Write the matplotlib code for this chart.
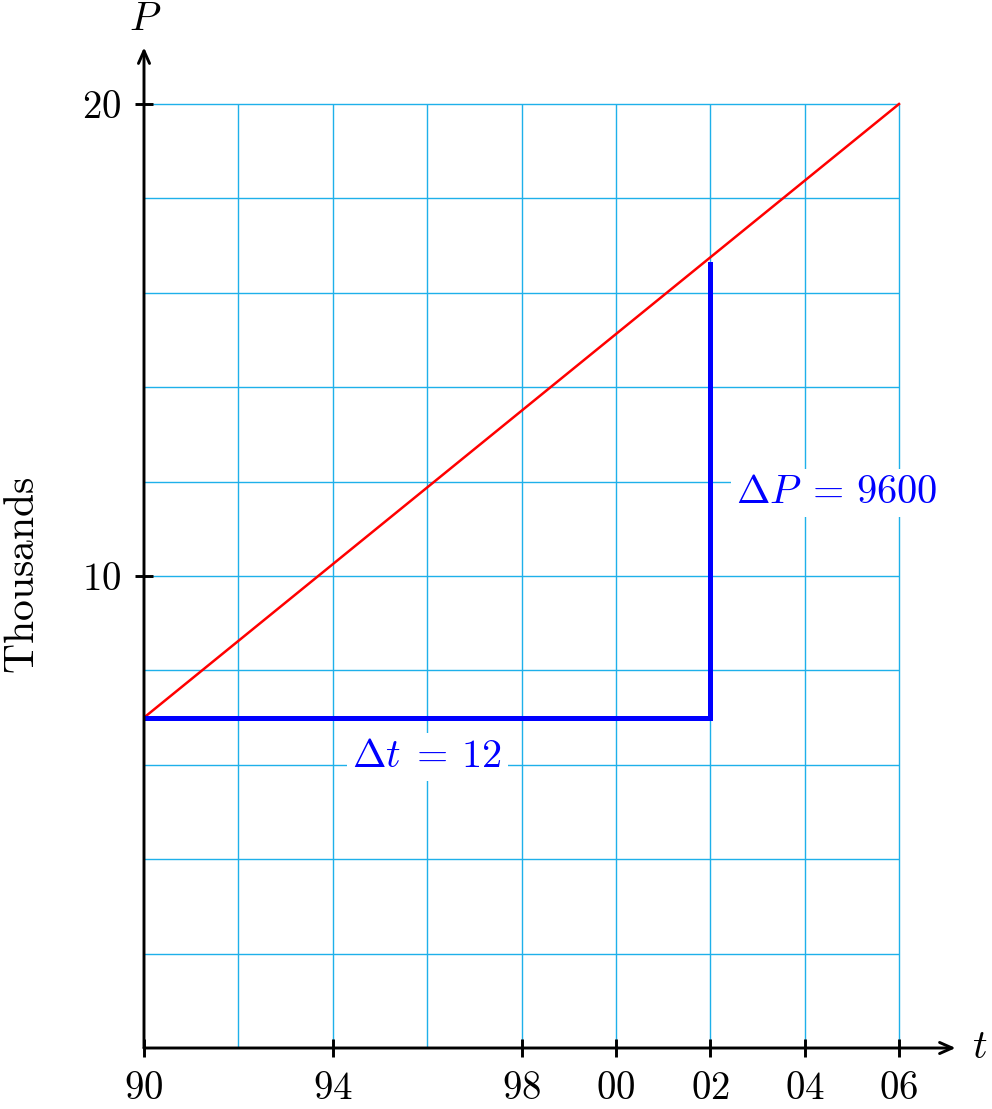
import matplotlib.pyplot as plt

plt.rcParams['mathtext.fontset'] = 'cm'
plt.rcParams['font.family'] = 'serif'

# data (years, thousands)
line_t = [1990, 2006]
line_p = [7, 20]
delta_t = [1990, 2002, 2002]
delta_p = [7, 7, 16.6]
xticks = [1990, 1994, 1998, 2000, 2002, 2004, 2006]
xlabels = ['90', '94', '98', '00', '02', '04', '06']
yticks = [10, 20]
ylabels = ['10', '20']
grid_x = list(range(1992, 2007, 2))
grid_y = list(range(2, 21, 2))

grid_col = '#1eb0ea'
fs = 28

fig = plt.figure(figsize=(9.92, 11.09), dpi=100)
ax = fig.add_axes([0.14516, 0.0550, 0.8182, 0.9023])
ax.set_xlim(1990, 2007.2)
ax.set_ylim(0, 21.2)
for s in ax.spines.values():
    s.set_visible(False)

# grid
ax.vlines(grid_x, 0, 20, color=grid_col, lw=1.0, zorder=1)
ax.hlines(grid_y, 1990, 2006, color=grid_col, lw=1.0, zorder=1)

# axes with arrows
arrow = dict(arrowstyle='->,head_length=0.9,head_width=0.4', lw=2.1, color='black',
             shrinkA=0, shrinkB=0)
ax.annotate('', xy=(2007.2, 0), xytext=(1990, 0), arrowprops=arrow, zorder=5,
            annotation_clip=False)
ax.annotate('', xy=(1990, 21.2), xytext=(1990, 0), arrowprops=arrow, zorder=5,
            annotation_clip=False)

ax.plot(line_t, line_p, color='#ff0000', lw=1.8, zorder=3)
ax.plot(delta_t, delta_p, color='#0000ff', lw=3.6, zorder=4, solid_joinstyle='miter')

ax.set_xticks(xticks)
ax.set_xticklabels(['$\\mathrm{%s}$' % s for s in xlabels])
ax.set_yticks(yticks)
ax.set_yticklabels(['$\\mathrm{%s}$' % s for s in ylabels])
ax.tick_params(direction='inout', length=13, width=2.1, labelsize=fs, pad=10)
ax.tick_params(axis='x', pad=9)

ax.text(2002.55, 11.76, r'$\Delta P\;=\,9600$', color='#0000ff', fontsize=29,
        ha='left', va='center', zorder=6,
        bbox=dict(facecolor='white', edgecolor='none', pad=4))
ax.text(1996.0, 6.17, r'$\Delta t\;=\,12$', color='#0000ff', fontsize=29,
        ha='center', va='center', zorder=6,
        bbox=dict(facecolor='white', edgecolor='none', pad=4))

fig.text(145 / 992, 1 - 20 / 1109, r'$P$', fontsize=29, ha='center', va='center')
fig.text(980 / 992, 1 - 1048 / 1109, r'$t$', fontsize=29, ha='center', va='center')
fig.text(22 / 992, 1 - 575 / 1109, r'$\mathrm{Thousands}$', fontsize=30,
         rotation=90, ha='center', va='center')

fig.savefig('out.png', dpi=100)
